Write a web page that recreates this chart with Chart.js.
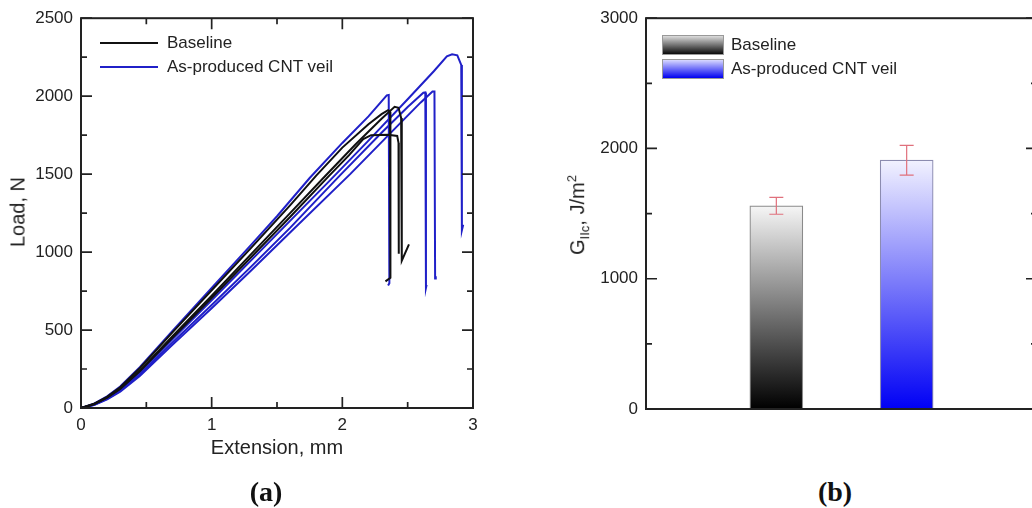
<!DOCTYPE html>
<html>
<head>
<meta charset="utf-8">
<script src="https://cdn.jsdelivr.net/npm/chart.js@4.4.1/dist/chart.umd.min.js"></script>
<style>
  html, body { margin:0; padding:0; background:#fff; width:1032px; height:508px; overflow:hidden; }
  body { position:relative; font-family:'Liberation Sans', Arial, sans-serif; color:#222; }
  canvas { position:absolute; }
  .t { position:absolute; white-space:nowrap; }
  .rot { transform: translate(-50%,-50%) rotate(-90deg); }
  .lab { font-family:'Liberation Serif','Times New Roman',serif; font-weight:bold; font-size:28px; color:#111; transform:translate(-50%,-50%); }
  .sw { position:absolute; width:62px; height:20px; box-sizing:border-box; border:1px solid #999; }
  .ln { position:absolute; width:58px; height:0; }
</style>
</head>
<body>
<canvas id="ca" width="500" height="440" style="left:0;top:0"></canvas>
<canvas id="cb" width="540" height="440" style="left:520px;top:0"></canvas>

<!-- panel (a) texts -->
<div class="t rot" style="left:18px;top:212px;font-size:20px">Load, N</div>
<div class="t" style="left:277px;top:447px;font-size:20px;transform:translate(-50%,-50%)">Extension, mm</div>
<div class="ln" style="left:100px;top:42px;border-top:2px solid #111"></div>
<div class="t" style="left:167px;top:43px;font-size:17px;transform:translateY(-50%)">Baseline</div>
<div class="ln" style="left:100px;top:66px;border-top:2px solid #2020c8"></div>
<div class="t" style="left:167px;top:67px;font-size:17px;transform:translateY(-50%)">As-produced CNT veil</div>
<div class="t lab" style="left:266px;top:492px">(a)</div>

<!-- panel (b) texts -->
<div class="t rot" style="left:578px;top:215px;font-size:20px">G<sub style="font-size:13px">IIc</sub>, J/m<sup style="font-size:13px">2</sup></div>
<div class="sw" style="left:662px;top:35px;background:linear-gradient(#dcdcdc,#0a0a0a)"></div>
<div class="t" style="left:731px;top:45px;font-size:17px;transform:translateY(-50%)">Baseline</div>
<div class="sw" style="left:662px;top:59px;background:linear-gradient(#d8d8ff,#0000f0)"></div>
<div class="t" style="left:731px;top:69px;font-size:17px;transform:translateY(-50%)">As-produced CNT veil</div>
<div class="t lab" style="left:835px;top:492px">(b)</div>

<script>
// ---------- Panel (a) data: load (N) vs extension (mm) ----------
const baseline1 = [[0,0],[0.1,25],[0.2,68],[0.3,125],[0.45,240],[0.7,460],[1.0,720],[1.3,985],[1.6,1250],[1.86,1480],[2.1,1690],[2.3,1855],[2.40,1932],[2.43,1925],[2.45,1860],[2.455,945],[2.51,1050]];
const baseline2 = [[0,0],[0.1,24],[0.2,66],[0.3,122],[0.45,235],[0.7,450],[1.0,705],[1.3,965],[1.6,1225],[1.90,1490],[2.05,1620],[2.16,1725],[2.22,1750],[2.35,1752],[2.42,1745],[2.43,1700],[2.432,990]];
const baseline3 = [[0,0],[0.1,27],[0.2,72],[0.3,133],[0.45,255],[0.7,485],[1.0,755],[1.3,1025],[1.6,1300],[1.80,1490],[2.0,1670],[2.2,1820],[2.3,1885],[2.35,1910],[2.365,1900],[2.368,835],[2.33,812]];
const cnt1 = [[0,0],[0.1,28],[0.2,75],[0.3,138],[0.45,262],[0.7,495],[1.0,770],[1.3,1045],[1.5,1230],[1.75,1475],[2.0,1700],[2.2,1870],[2.34,2005],[2.355,2008],[2.36,800],[2.35,785]];
const cnt2 = [[0,0],[0.1,22],[0.2,62],[0.3,118],[0.45,228],[0.7,440],[1.0,690],[1.3,945],[1.6,1200],[1.9,1455],[2.2,1715],[2.5,1980],[2.7,2160],[2.80,2255],[2.84,2268],[2.88,2262],[2.91,2200],[2.915,1140],[2.925,1175]];
const cnt3 = [[0,0],[0.1,20],[0.2,58],[0.3,110],[0.45,215],[0.7,420],[1.0,660],[1.3,905],[1.6,1155],[1.98,1490],[2.3,1765],[2.5,1930],[2.62,2022],[2.635,2024],[2.64,770],[2.645,790]];
const cnt4 = [[0,0],[0.1,19],[0.2,55],[0.3,105],[0.45,205],[0.7,405],[1.0,640],[1.3,880],[1.6,1125],[2.06,1500],[2.4,1790],[2.6,1960],[2.69,2030],[2.705,2030],[2.71,830],[2.715,845]];

const aXMajor = [0,1,2,3];
const aXMinor = [0.5,1.5,2.5];
const aYMajor = [0,500,1000,1500,2000,2500];
const aYMinor = [250,750,1250,1750,2250];

// ---------- Panel (b) data: G_IIc (J/m^2) ----------
const barCategories = ['', 'Baseline', 'As-produced CNT veil', ''];
const barValues = [null, 1560, 1910, null];
const barErrors = [null, 65, 114, null];
const bYMajor = [0,1000,2000,3000];
const bYMinor = [500,1500,2500];

const BLACK = '#111111', BLUE = '#2020c8';
const FONT = "'Liberation Sans', Arial, sans-serif";

const toXY = arr => arr.map(p => ({x:p[0], y:p[1]}));

const frameTicks = {
  id: 'frameTicks',
  afterDraw(chart, args, o) {
    const {ctx, chartArea:a, scales} = chart;
    ctx.save();
    ctx.strokeStyle = '#222'; ctx.lineWidth = 2;
    ctx.strokeRect(a.left, a.top, a.right - a.left, a.bottom - a.top);
    ctx.lineWidth = 1.7;
    const MAJ = 11, MIN = 6;
    const vt = (vals, len) => vals.forEach(v => {
      const px = scales.x.getPixelForValue(v);
      ctx.beginPath();
      ctx.moveTo(px, a.bottom); ctx.lineTo(px, a.bottom - len);
      ctx.moveTo(px, a.top); ctx.lineTo(px, a.top + len);
      ctx.stroke();
    });
    const ht = (vals, len) => vals.forEach(v => {
      const py = scales.y.getPixelForValue(v);
      ctx.beginPath();
      ctx.moveTo(a.left, py); ctx.lineTo(a.left + len, py);
      ctx.moveTo(a.right, py); ctx.lineTo(a.right - len, py);
      ctx.stroke();
    });
    if (o.xMajor) vt(o.xMajor, MAJ);
    if (o.xMinor) vt(o.xMinor, MIN);
    if (o.yMajor) ht(o.yMajor, MAJ);
    if (o.yMinor) ht(o.yMinor, MIN);
    ctx.restore();
  }
};

const lineDs = (data, color) => ({
  data: toXY(data), showLine: true, borderColor: color, borderWidth: 2,
  pointRadius: 0, tension: 0, fill: false
});

const tickFont = { family: FONT, size: 17 };
const plain = v => String(v);

new Chart(document.getElementById('ca'), {
  type: 'scatter',
  data: { datasets: [
    lineDs(baseline1, BLACK), lineDs(baseline2, BLACK), lineDs(baseline3, BLACK),
    lineDs(cnt1, BLUE), lineDs(cnt2, BLUE), lineDs(cnt3, BLUE), lineDs(cnt4, BLUE)
  ]},
  options: {
    responsive: false, animation: false,
    layout: { padding: { left: 0, top: 15, right: 27, bottom: 0 } },
    plugins: { legend: { display: false }, tooltip: { enabled: false },
      frameTicks: { xMajor: aXMajor, xMinor: aXMinor, yMajor: aYMajor, yMinor: aYMinor } },
    scales: {
      x: { type: 'linear', min: 0, max: 3,
        grid: { display: false, drawTicks: false }, border: { display: false },
        afterBuildTicks: s => { s.ticks = aXMajor.map(v => ({value: v})); },
        ticks: { padding: 7, color: '#222', font: tickFont, callback: plain },
        afterFit: s => { s.height = 32; } },
      y: { type: 'linear', min: 0, max: 2500,
        grid: { display: false, drawTicks: false }, border: { display: false },
        afterBuildTicks: s => { s.ticks = aYMajor.map(v => ({value: v})); },
        ticks: { padding: 8, color: '#222', font: tickFont, callback: plain },
        afterFit: s => { s.width = 81; } }
    }
  },
  plugins: [frameTicks]
});

const barGradient = (context) => {
  const chart = context.chart;
  const {chartArea, scales} = chart;
  if (!chartArea || context.raw == null) return 'rgba(0,0,0,0)';
  const top = scales.y.getPixelForValue(context.raw);
  const bot = scales.y.getPixelForValue(0);
  const g = chart.ctx.createLinearGradient(0, top, 0, bot);
  if (context.dataIndex === 1) { g.addColorStop(0, '#f6f6f6'); g.addColorStop(1, '#000000'); }
  else { g.addColorStop(0, '#f2f2ff'); g.addColorStop(1, '#0000f5'); }
  return g;
};

const errorBars = {
  id: 'errorBars',
  afterDatasetsDraw(chart) {
    const {ctx, scales} = chart;
    const meta = chart.getDatasetMeta(0);
    ctx.save();
    ctx.strokeStyle = '#e0707c'; ctx.lineWidth = 1.2;
    barValues.forEach((v, i) => {
      if (v == null) return;
      const x = meta.data[i].x;
      const yt = scales.y.getPixelForValue(v + barErrors[i]);
      const yb = scales.y.getPixelForValue(v - barErrors[i]);
      ctx.beginPath();
      ctx.moveTo(x, yt); ctx.lineTo(x, yb);
      ctx.moveTo(x - 7, yt); ctx.lineTo(x + 7, yt);
      ctx.moveTo(x - 7, yb); ctx.lineTo(x + 7, yb);
      ctx.stroke();
    });
    ctx.restore();
  }
};

new Chart(document.getElementById('cb'), {
  type: 'bar',
  data: { labels: barCategories, datasets: [{
    data: barValues, backgroundColor: barGradient,
    borderColor: ['#888', '#8a8a8a', '#8c8cb0', '#888'], borderWidth: 1.2,
    barThickness: 53
  }]},
  options: {
    responsive: false, animation: false,
    layout: { padding: { left: 0, top: 15, right: 23, bottom: 0 } },
    plugins: { legend: { display: false }, tooltip: { enabled: false },
      frameTicks: { yMajor: bYMajor, yMinor: bYMinor } },
    scales: {
      x: { type: 'category', offset: false,
        grid: { display: false, drawTicks: false, offset: false }, border: { display: false },
        ticks: { display: false },
        afterFit: s => { s.height = 31; } },
      y: { type: 'linear', min: 0, max: 3000,
        grid: { display: false, drawTicks: false }, border: { display: false },
        afterBuildTicks: s => { s.ticks = bYMajor.map(v => ({value: v})); },
        ticks: { padding: 8, color: '#222', font: tickFont, callback: plain },
        afterFit: s => { s.width = 126; } }
    }
  },
  plugins: [errorBars, frameTicks]
});
</script>
</body>
</html>
